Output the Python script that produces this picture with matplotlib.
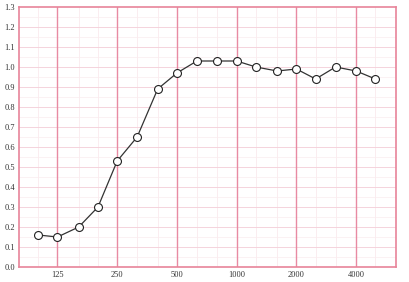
import matplotlib
matplotlib.use("Agg")
import matplotlib.pyplot as plt
import numpy as np

freqs = [100, 125, 160, 200, 250, 315, 400, 500, 630, 800, 1000,
         1250, 1600, 2000, 2500, 3150, 4000, 5000]
alpha = [0.16, 0.15, 0.20, 0.30, 0.53, 0.65, 0.89, 0.97, 1.03, 1.03, 1.03,
         1.00, 0.98, 0.99, 0.94, 1.00, 0.98, 0.94]
xticks = [125, 250, 500, 1000, 2000, 4000]
xtick_labels = ["125", "250", "500", "1000", "2000", "4000"]
yticks = np.round(np.arange(0, 1.31, 0.1), 1)

plt.rcParams['font.family'] = ['Liberation Serif', 'DejaVu Serif']

fig = plt.figure(figsize=(4.09, 2.82), dpi=100)
ax = fig.add_axes([19 / 409, 15 / 282, 377 / 409, 260 / 282])

ax.set_xscale('log', base=2)
ax.set_xlim(80, 6350)
ax.set_ylim(0, 1.3)

# fine grid
for f in [100, 160, 200, 315, 400, 630, 800, 1250, 1600, 2500, 3150, 5000]:
    ax.axvline(f, color='#faeaee', lw=0.6, zorder=0)
for y in np.arange(0.05, 1.3, 0.1):
    ax.axhline(y, color='#faecef', lw=0.5, zorder=0)
for y in yticks[1:-1]:
    ax.axhline(y, color='#f5d3dc', lw=0.7, zorder=0)
for f in xticks:
    ax.axvline(f, color='#e88aa3', lw=1.0, zorder=1)

ax.plot(freqs, alpha, color='#333333', lw=0.9, zorder=3,
        marker='o', markersize=5.7, markerfacecolor='white',
        markeredgecolor='#222222', markeredgewidth=0.8)

ax.set_xticks(xticks)
ax.set_xticklabels(xtick_labels)
ax.set_xticks([], minor=True)
ax.set_yticks(yticks)
ax.set_yticklabels([f"{v:.1f}" for v in yticks])
ax.tick_params(length=0, labelsize=6, colors='#333333', pad=3)

for s in ax.spines.values():
    s.set_color('#e8849a')
    s.set_linewidth(1.2)

fig.savefig("out.png", dpi=100)
